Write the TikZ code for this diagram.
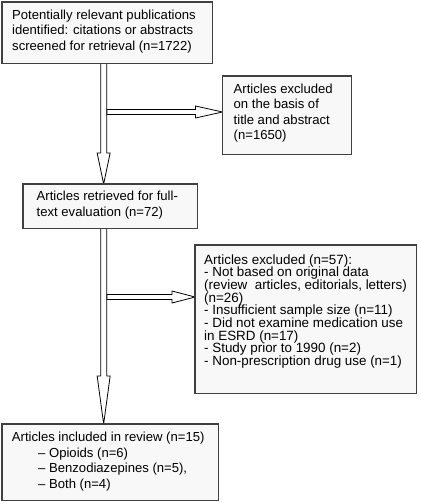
\documentclass[tikz,border=0pt]{standalone}
\usepackage{fontspec}
\setmainfont{Liberation Sans}
\usetikzlibrary{calc}
\definecolor{boxfill}{HTML}{F8F8F8}
\definecolor{boxline}{HTML}{404040}
\lineskiplimit=-20pt
\begin{document}
\begin{tikzpicture}[x=1pt,y=-1pt,
  box/.style={draw=boxline, fill=boxfill, line width=1.3pt, inner sep=0pt, anchor=north west},
  txt/.style={anchor=north west, inner sep=0pt, align=left,
    font={\fontsize{13.1}{15.5}\selectfont}},
  txtdense/.style={txt, font={\fontsize{13.4}{12.7}\selectfont}},
  blk/.style={draw=black, fill=white, line width=0.8pt, line join=miter}]
\useasboundingbox (0,0) rectangle (420,502);

% boxes (geometry only, used to anchor the arrows)
\path node[box, draw=none, fill=none, minimum width=209.5, minimum height=60] (b1) at (2,2) {}
      node[box, draw=none, fill=none, minimum width=127.5, minimum height=77] (b2) at (222.5,76) {}
      node[box, draw=none, fill=none, minimum width=173, minimum height=43] (b3) at (23,184) {}
      node[box, draw=none, fill=none, minimum width=220.5, minimum height=147] (b4) at (195,245) {}
      node[box, draw=none, fill=none, minimum width=215, minimum height=75] (b5) at (2,424) {};

% arrow anchor points
\coordinate (v1s) at ($(b1.south)+(-3.75,0)$);
\coordinate (v1e) at (v1s |- b3.north);
\coordinate (v2s) at (v1s |- b3.south);
\coordinate (v2e) at (v1s |- b5.north);
\coordinate (h1s) at (107,112);
\coordinate (h1e) at (b2.west |- h1s);
\coordinate (h2s) at (107,297);
\coordinate (h2e) at (b4.west |- h2s);

% vertical block arrows
\draw[blk] ($(v1s)+(-3,0)$) -- ($(v1e)+(-3,-31)$) -- ($(v1e)+(-6.5,-31)$) -- (v1e)
  -- ($(v1e)+(6.5,-31)$) -- ($(v1e)+(3,-31)$) -- ($(v1s)+(3,0)$);
\draw[blk] ($(v2s)+(-3,0)$) -- ($(v2e)+(-3,-48)$) -- ($(v2e)+(-6.5,-48)$) -- (v2e)
  -- ($(v2e)+(6.5,-48)$) -- ($(v2e)+(3,-48)$) -- ($(v2s)+(3,0)$);
% horizontal block arrows
\draw[blk] ($(h1s)+(0,-2.5)$) -- ($(h1e)+(-27,-2.5)$) -- ($(h1e)+(-27,-6)$) -- (h1e)
  -- ($(h1e)+(-27,6)$) -- ($(h1e)+(-27,2.5)$) -- ($(h1s)+(0,2.5)$) -- cycle;
\draw[blk] ($(h2s)+(0,-2.5)$) -- ($(h2e)+(-23,-2.5)$) -- ($(h2e)+(-23,-6)$) -- (h2e)
  -- ($(h2e)+(-23,6)$) -- ($(h2e)+(-23,2.5)$) -- ($(h2s)+(0,2.5)$) -- cycle;

% visible boxes
\foreach \b in {b1,b2,b3,b4,b5}
  \draw[draw=boxline, fill=boxfill, line width=1.3pt] (\b.north west) rectangle (\b.south east);

% texts
\node[txt] (t1) at (12,9) {\rule{0pt}{10pt}Potentially relevant publications\\identified: citations or abstracts\\screened for retrieval (n=1722)};
\node[txt] (t2) at (233.5,83) {\rule{0pt}{10pt}Articles excluded\\on the basis of\\title and abstract\\(n=1650)};
\node[txt] (t3) at (36.5,190.7) {\rule{0pt}{10pt}Articles retrieved for full-\\text evaluation (n=72)};
\node[txtdense] (t4) at (204,253.8) {\rule{0pt}{10pt}Articles excluded (n=57):\\- Not based on original data\\(review~ articles, editorials, letters)\\(n=26)\\- Insufficient sample size (n=11)\\- Did not examine medication use\\in ESRD (n=17)\\- Study prior to 1990 (n=2)\\- Non-prescription drug use (n=1)};
\node[txt] (t5) at (11.7,431.7) {\rule{0pt}{10pt}Articles included in review (n=15)\\\hspace*{26.3pt}– Opioids (n=6)\\\hspace*{26.3pt}– Benzodiazepines (n=5),\\\hspace*{26.3pt}– Both (n=4)};
\end{tikzpicture}
\end{document}
